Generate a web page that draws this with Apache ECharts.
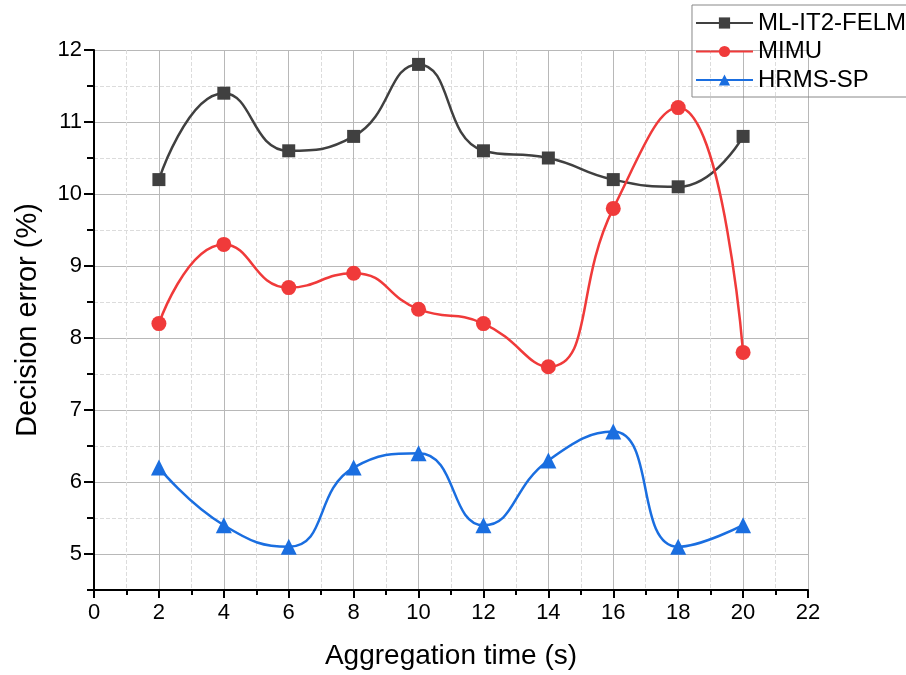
<!DOCTYPE html>
<html>
<head>
<meta charset="utf-8">
<script src="https://cdn.jsdelivr.net/npm/echarts@6/dist/echarts.min.js"></script>
<style>
  html, body { margin: 0; padding: 0; background: #fff; }
  #chart { width: 906px; height: 675px; }
</style>
</head>
<body>
<div id="chart"></div>
<script>
// values
var aggTime = [2, 4, 6, 8, 10, 12, 14, 16, 18, 20];
var mlIt2Felm = [10.2, 11.4, 10.6, 10.8, 11.8, 10.6, 10.5, 10.2, 10.1, 10.8];
var mimu = [8.2, 9.3, 8.7, 8.9, 8.4, 8.2, 7.6, 9.8, 11.2, 7.8];
var hrmsSp = [6.2, 5.4, 5.1, 6.2, 6.4, 5.4, 6.3, 6.7, 5.1, 5.4];
var yMajor = [5, 6, 7, 8, 9, 10, 11, 12];

function pairs(vals) {
  return vals.map(function (v, i) { return [aggTime[i], v]; });
}

var font = 'Liberation Sans, Arial, sans-serif';
var chart = echarts.init(document.getElementById('chart'));

chart.setOption({
  animation: false,
  backgroundColor: '#fff',
  grid: { left: 94, right: 98, top: 50, bottom: 85 },
  legend: {
    right: -8, top: 5,
    orient: 'vertical',
    itemWidth: 57, itemHeight: 14, itemGap: 4.5,
    padding: [6, 8, 5, 3],
    borderColor: '#888', borderWidth: 1,
    textStyle: { fontFamily: font, fontSize: 24, lineHeight: 24, color: '#000' },
    data: ['ML-IT2-FELM', 'MIMU', 'HRMS-SP']
  },
  xAxis: {
    type: 'value', min: 0, max: 22, interval: 2,
    name: 'Aggregation time (s)', nameLocation: 'middle', nameGap: 52,
    nameTextStyle: { fontFamily: font, fontSize: 28, color: '#000' },
    axisLine: { lineStyle: { color: '#000', width: 2 } },
    axisTick: { show: true, length: 8, lineStyle: { color: '#000', width: 2 } },
    minorTick: { show: true, splitNumber: 2, length: 5, lineStyle: { color: '#000', width: 2 } },
    axisLabel: { fontFamily: font, fontSize: 22, color: '#000', margin: 12 },
    splitLine: { show: true, lineStyle: { color: '#b8b8b8', width: 1 } },
    minorSplitLine: { show: true, lineStyle: { color: '#dcdcdc', width: 1, type: 'dashed' } }
  },
  yAxis: [{
    type: 'value', min: 4.5, max: 12, interval: 0.5,
    name: 'Decision error (%)', nameLocation: 'middle', nameGap: 52,
    nameTextStyle: { fontFamily: font, fontSize: 29, color: '#000' },
    axisLine: { show: true, lineStyle: { color: '#000', width: 2 } },
    axisTick: { show: true, length: 7, lineStyle: { color: '#000', width: 2 } },
    axisLabel: {
      fontFamily: font, fontSize: 22, color: '#000', margin: 12,
      formatter: function (v) { return Number.isInteger(v) ? String(v) : ''; }
    },
    splitLine: { show: true, lineStyle: { color: '#dcdcdc', width: 1, type: 'dashed' } }
  }, {
    type: 'value', min: 4.5, max: 12, position: 'left',
    axisLine: { show: false },
    axisTick: { show: true, length: 10, customValues: yMajor, lineStyle: { color: '#000', width: 2 } },
    axisLabel: { show: false, customValues: yMajor },
    splitLine: { show: true, lineStyle: { color: '#b8b8b8', width: 1 } }
  }],
  series: [{
    name: 'ML-IT2-FELM', type: 'line', smooth: 0.5,
    data: pairs(mlIt2Felm),
    symbol: 'rect', symbolSize: 13,
    color: '#404040',
    lineStyle: { width: 2.5, color: '#404040' },
    itemStyle: { color: '#404040' }
  }, {
    name: 'MIMU', type: 'line', smooth: 0.5,
    data: pairs(mimu),
    symbol: 'circle', symbolSize: 15,
    color: '#f03a3a',
    lineStyle: { width: 2.5, color: '#f03a3a' },
    itemStyle: { color: '#f03a3a' }
  }, {
    name: 'HRMS-SP', type: 'line', smooth: 0.5,
    data: pairs(hrmsSp),
    symbol: 'triangle', symbolSize: 16,
    color: '#1a6ee0',
    lineStyle: { width: 2.5, color: '#1a6ee0' },
    itemStyle: { color: '#1a6ee0' }
  }]
});
</script>
</body>
</html>
